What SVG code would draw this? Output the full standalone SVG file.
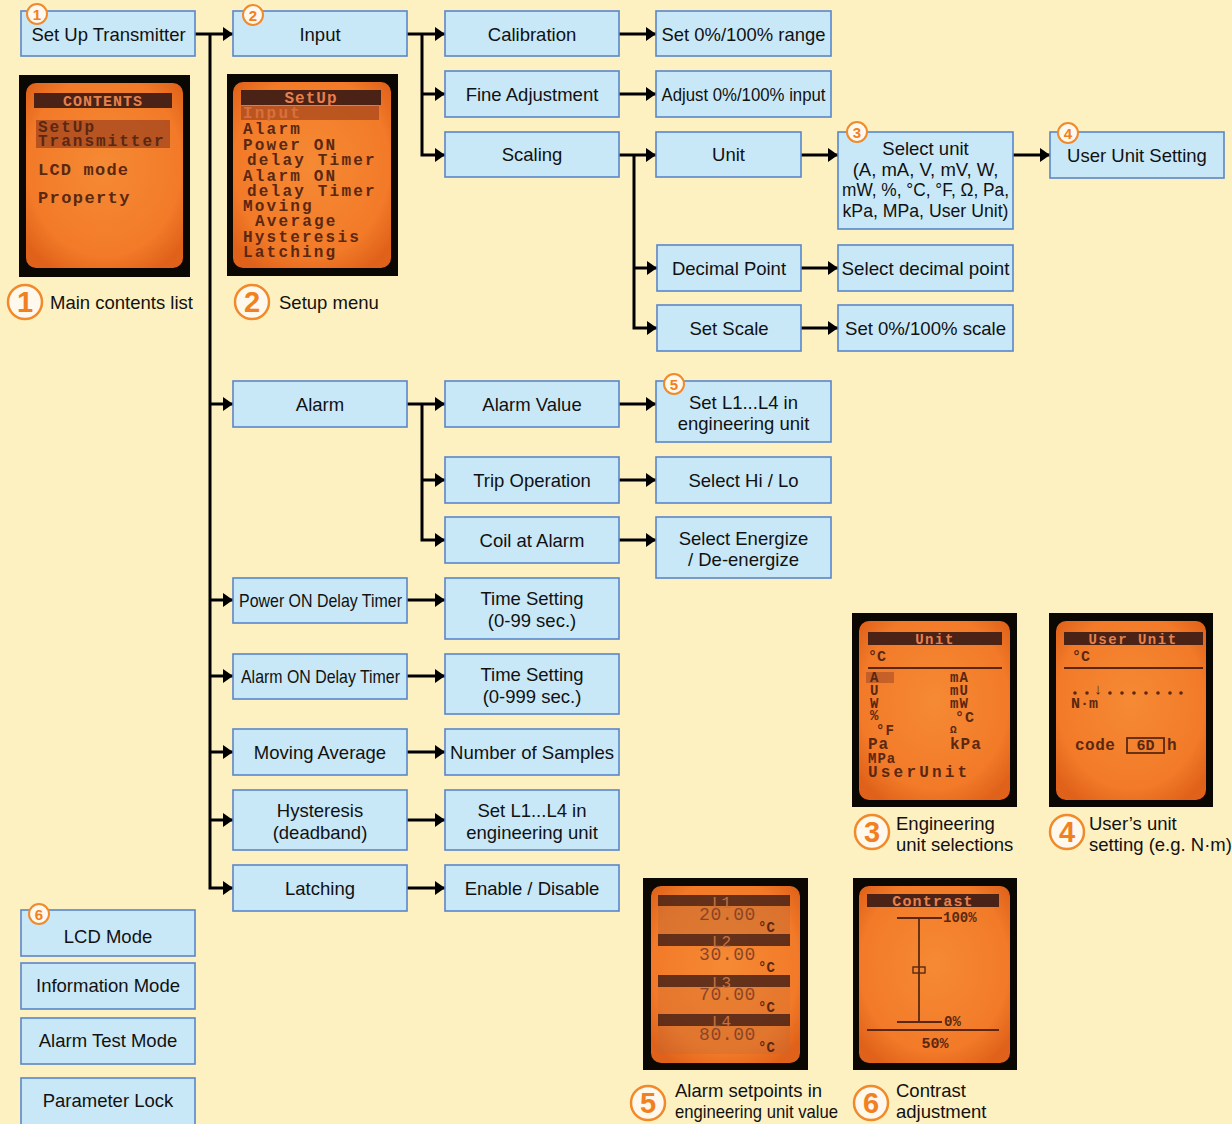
<svg xmlns="http://www.w3.org/2000/svg" width="1232" height="1124" viewBox="0 0 1232 1124">
<defs>
<style>
.box{fill:#C8E8F8;stroke:#5B86C9;stroke-width:1.6}
.t{font-family:"Liberation Sans",Arial,sans-serif;font-size:18.5px;fill:#111;text-anchor:middle}
.cap{font-family:"Liberation Sans",Arial,sans-serif;font-size:18.5px;fill:#111}
.c{stroke:#000;stroke-width:3;fill:none}
.sb{fill:#FFF8EC;stroke:#F08A2A;stroke-width:2}
.sn{font-family:"Liberation Sans",Arial,sans-serif;font-size:15px;font-weight:bold;fill:#F08020;text-anchor:middle}
.bb{fill:#FFF8EC;stroke:#F08A2A;stroke-width:2.5}
.bn{font-family:"Liberation Sans",Arial,sans-serif;font-size:29px;font-weight:bold;fill:#F08020;text-anchor:middle}
.bez{fill:#0b0703}
.scr{fill:url(#lcd)}
.hdr{fill:#4A2216}
.ht{font-family:"Liberation Mono","DejaVu Sans Mono",monospace;font-weight:bold;fill:#E8804C;text-anchor:middle}
.lt{font-family:"Liberation Mono","DejaVu Sans Mono",monospace;font-weight:bold;fill:#5A2812}
.ln{stroke:#5A2812;stroke-width:1.8;fill:none}
</style>
<radialGradient id="lcd" cx="50%" cy="45%" r="65%">
<stop offset="0" stop-color="#F68A34"/>
<stop offset="0.75" stop-color="#F27A28"/>
<stop offset="1" stop-color="#E0621A"/>
</radialGradient>
<marker id="ah" viewBox="0 0 10 14" refX="10" refY="7" markerWidth="10" markerHeight="14" markerUnits="userSpaceOnUse" orient="auto">
<path d="M0,0 L10,7 L0,14 z" fill="#000"/>
</marker>
</defs>
<rect x="0" y="0" width="1232" height="1124" fill="#FDF0C1"/>

<g id="connectors">
<path class="c" d="M195,34 H233" marker-end="url(#ah)"/>
<path class="c" d="M210,34 V888 H233" marker-end="url(#ah)"/>
<path class="c" d="M210,404 H233" marker-end="url(#ah)"/>
<path class="c" d="M210,600 H233" marker-end="url(#ah)"/>
<path class="c" d="M210,676 H233" marker-end="url(#ah)"/>
<path class="c" d="M210,752 H233" marker-end="url(#ah)"/>
<path class="c" d="M210,820 H233" marker-end="url(#ah)"/>
<path class="c" d="M407,34 H445" marker-end="url(#ah)"/>
<path class="c" d="M422,34 V155 H445" marker-end="url(#ah)"/>
<path class="c" d="M422,94 H445" marker-end="url(#ah)"/>
<path class="c" d="M619,34 H656" marker-end="url(#ah)"/>
<path class="c" d="M619,94 H656" marker-end="url(#ah)"/>
<path class="c" d="M619,155 H656" marker-end="url(#ah)"/>
<path class="c" d="M634,155 V328 H657" marker-end="url(#ah)"/>
<path class="c" d="M634,268 H657" marker-end="url(#ah)"/>
<path class="c" d="M801,155 H838" marker-end="url(#ah)"/>
<path class="c" d="M1013,155 H1050" marker-end="url(#ah)"/>
<path class="c" d="M801,268 H838" marker-end="url(#ah)"/>
<path class="c" d="M801,328 H838" marker-end="url(#ah)"/>
<path class="c" d="M407,404 H445" marker-end="url(#ah)"/>
<path class="c" d="M422,404 V540 H445" marker-end="url(#ah)"/>
<path class="c" d="M422,480 H445" marker-end="url(#ah)"/>
<path class="c" d="M619,404 H656" marker-end="url(#ah)"/>
<path class="c" d="M619,480 H656" marker-end="url(#ah)"/>
<path class="c" d="M619,540 H656" marker-end="url(#ah)"/>
<path class="c" d="M407,600 H445" marker-end="url(#ah)"/>
<path class="c" d="M407,676 H445" marker-end="url(#ah)"/>
<path class="c" d="M407,752 H445" marker-end="url(#ah)"/>
<path class="c" d="M407,820 H445" marker-end="url(#ah)"/>
<path class="c" d="M407,888 H445" marker-end="url(#ah)"/>
</g>

<g id="n-setup"><rect class="box" x="21" y="11" width="174" height="45"/><text class="t" x="108.5" y="40.5">Set Up Transmitter</text><circle class="sb" cx="37" cy="14" r="10"/><text class="sn" x="37" y="19.5">1</text></g>
<g id="n-input"><rect class="box" x="233" y="11" width="174" height="45"/><text class="t" x="320" y="40.5">Input</text><circle class="sb" cx="253" cy="15" r="10"/><text class="sn" x="253" y="20.5">2</text></g>
<g id="n-calibration"><rect class="box" x="445" y="11" width="174" height="45"/><text class="t" x="532" y="40.5">Calibration</text></g>
<g id="n-range"><rect class="box" x="656" y="11" width="175" height="45"/><text class="t" x="743.5" y="40.5" textLength="164" lengthAdjust="spacingAndGlyphs">Set 0%/100% range</text></g>
<g id="n-fine"><rect class="box" x="445" y="71" width="174" height="46"/><text class="t" x="532" y="100.5">Fine Adjustment</text></g>
<g id="n-adjust"><rect class="box" x="656" y="71" width="175" height="46"/><text class="t" x="743.5" y="100.5" textLength="164" lengthAdjust="spacingAndGlyphs">Adjust 0%/100% input</text></g>
<g id="n-scaling"><rect class="box" x="445" y="132" width="174" height="45"/><text class="t" x="532" y="161">Scaling</text></g>
<g id="n-unit"><rect class="box" x="656" y="132" width="145" height="45"/><text class="t" x="728.5" y="161">Unit</text></g>
<g id="n-selectunit"><rect class="box" x="838" y="132" width="175" height="97"/>
<text class="t" x="925.5" y="155">Select unit</text>
<text class="t" x="925.5" y="175.5">(A, mA, V, mV, W,</text>
<text class="t" x="925.5" y="196" textLength="167" lengthAdjust="spacingAndGlyphs">mW, %, °C, °F, Ω, Pa,</text>
<text class="t" x="925.5" y="216.5" textLength="166" lengthAdjust="spacingAndGlyphs">kPa, MPa, User Unit)</text>
<circle class="sb" cx="857" cy="132" r="10"/><text class="sn" x="857" y="137.5">3</text></g>
<g id="n-userunit"><rect class="box" x="1050" y="132" width="174" height="46"/><text class="t" x="1137" y="161.5">User Unit Setting</text><circle class="sb" cx="1068" cy="133" r="10"/><text class="sn" x="1068" y="138.5">4</text></g>
<g id="n-decimal"><rect class="box" x="657" y="245" width="144" height="46"/><text class="t" x="729" y="274.5">Decimal Point</text></g>
<g id="n-selectdecimal"><rect class="box" x="838" y="245" width="175" height="46"/><text class="t" x="925.5" y="274.5" textLength="168" lengthAdjust="spacingAndGlyphs">Select decimal point</text></g>
<g id="n-setscale"><rect class="box" x="657" y="305" width="144" height="46"/><text class="t" x="729" y="334.5">Set Scale</text></g>
<g id="n-scale100"><rect class="box" x="838" y="305" width="175" height="46"/><text class="t" x="925.5" y="334.5" textLength="161" lengthAdjust="spacingAndGlyphs">Set 0%/100% scale</text></g>
<g id="n-alarm"><rect class="box" x="233" y="381" width="174" height="46"/><text class="t" x="320" y="410.5">Alarm</text></g>
<g id="n-alarmvalue"><rect class="box" x="445" y="381" width="174" height="46"/><text class="t" x="532" y="410.5">Alarm Value</text></g>
<g id="n-setl1"><rect class="box" x="656" y="381" width="175" height="61"/><text class="t" x="743.5" y="408.5">Set L1...L4 in</text><text class="t" x="743.5" y="430">engineering unit</text><circle class="sb" cx="674" cy="384" r="10"/><text class="sn" x="674" y="389.5">5</text></g>
<g id="n-trip"><rect class="box" x="445" y="457" width="174" height="46"/><text class="t" x="532" y="486.5">Trip Operation</text></g>
<g id="n-hilo"><rect class="box" x="656" y="457" width="175" height="46"/><text class="t" x="743.5" y="486.5">Select Hi / Lo</text></g>
<g id="n-coil"><rect class="box" x="445" y="517" width="174" height="46"/><text class="t" x="532" y="546.5">Coil at Alarm</text></g>
<g id="n-energize"><rect class="box" x="656" y="517" width="175" height="61"/><text class="t" x="743.5" y="544.5">Select Energize</text><text class="t" x="743.5" y="566">/ De-energize</text></g>
<g id="n-poweron"><rect class="box" x="233" y="578" width="174" height="45"/><text class="t" x="320.5" y="607" textLength="163" lengthAdjust="spacingAndGlyphs">Power ON Delay Timer</text></g>
<g id="n-time1"><rect class="box" x="445" y="578" width="174" height="61"/><text class="t" x="532" y="605">Time Setting</text><text class="t" x="532" y="626.5">(0-99 sec.)</text></g>
<g id="n-alarmon"><rect class="box" x="233" y="654" width="174" height="45"/><text class="t" x="320.5" y="683" textLength="159" lengthAdjust="spacingAndGlyphs">Alarm ON Delay Timer</text></g>
<g id="n-time2"><rect class="box" x="445" y="654" width="174" height="60"/><text class="t" x="532" y="681">Time Setting</text><text class="t" x="532" y="702.5">(0-999 sec.)</text></g>
<g id="n-moving"><rect class="box" x="233" y="729" width="174" height="46"/><text class="t" x="320" y="758.5">Moving Average</text></g>
<g id="n-samples"><rect class="box" x="445" y="729" width="174" height="46"/><text class="t" x="532" y="758.5" textLength="164" lengthAdjust="spacingAndGlyphs">Number of Samples</text></g>
<g id="n-hysteresis"><rect class="box" x="233" y="790" width="174" height="60"/><text class="t" x="320" y="817">Hysteresis</text><text class="t" x="320" y="838.5">(deadband)</text></g>
<g id="n-setl1b"><rect class="box" x="445" y="790" width="174" height="60"/><text class="t" x="532" y="817">Set L1...L4 in</text><text class="t" x="532" y="838.5">engineering unit</text></g>
<g id="n-latching"><rect class="box" x="233" y="865" width="174" height="46"/><text class="t" x="320" y="894.5">Latching</text></g>
<g id="n-enable"><rect class="box" x="445" y="865" width="174" height="46"/><text class="t" x="532" y="894.5">Enable / Disable</text></g>
<g id="n-lcdmode"><rect class="box" x="21" y="910" width="174" height="46"/><text class="t" x="108" y="942.5">LCD Mode</text><circle class="sb" cx="39" cy="914" r="10"/><text class="sn" x="39" y="919.5">6</text></g>
<g id="n-infomode"><rect class="box" x="21" y="963" width="174" height="46"/><text class="t" x="108" y="991.5">Information Mode</text></g>
<g id="n-alarmtest"><rect class="box" x="21" y="1018" width="174" height="46"/><text class="t" x="108" y="1047">Alarm Test Mode</text></g>
<g id="n-paramlock"><rect class="box" x="21" y="1078" width="174" height="52"/><text class="t" x="108" y="1107">Parameter Lock</text></g>

<!-- LCD 1 -->
<g id="lcd1">
<rect class="bez" x="19" y="75" width="171" height="202"/>
<rect class="scr" x="26" y="83" width="157" height="185" rx="10"/>
<rect class="hdr" x="34" y="93" width="138" height="15"/>
<text class="ht" x="103" y="106" font-size="15" letter-spacing="1">CONTENTS</text>
<rect x="36" y="120" width="134" height="28" fill="#A8481E" opacity="0.8"/>
<text class="lt" x="38" y="132" font-size="16" letter-spacing="2" fill="#E07A44">SetUp</text>
<text class="lt" x="38" y="146" font-size="16" letter-spacing="2" fill="#E07A44">Transmitter</text>
<text class="lt" x="38" y="175" font-size="17" letter-spacing="1.2">LCD mode</text>
<text class="lt" x="38" y="203" font-size="17" letter-spacing="1.4">Property</text>
</g>
<g id="cap1"><circle class="bb" cx="25" cy="302" r="17"/><text class="bn" x="25" y="312">1</text><text class="cap" x="50" y="309">Main contents list</text></g>

<!-- LCD 2 -->
<g id="lcd2">
<rect class="bez" x="227" y="74" width="171" height="202"/>
<rect class="scr" x="233" y="82" width="158" height="186" rx="10"/>
<rect class="hdr" x="241" y="90" width="140" height="15"/>
<text class="ht" x="311" y="103" font-size="16" letter-spacing="1">SetUp</text>
<rect x="241" y="106" width="138" height="14" fill="#A8481E" opacity="0.75"/>
<g class="lt" font-size="16" letter-spacing="2.2">
<text x="243" y="118" fill="#D8703C">Input</text>
<text x="243" y="134">Alarm</text>
<text x="243" y="150">Power ON</text>
<text x="247" y="165">delay Timer</text>
<text x="243" y="181">Alarm ON</text>
<text x="247" y="196">delay Timer</text>
<text x="243" y="211">Moving</text>
<text x="255" y="226">Average</text>
<text x="243" y="242">Hysteresis</text>
<text x="243" y="257">Latching</text>
</g>
</g>
<g id="cap2"><circle class="bb" cx="252" cy="302" r="17"/><text class="bn" x="252" y="312">2</text><text class="cap" x="279" y="309">Setup menu</text></g>

<!-- LCD 3 -->
<g id="lcd3">
<rect class="bez" x="852" y="613" width="165" height="194"/>
<rect class="scr" x="859" y="621" width="151" height="179" rx="10"/>
<rect class="hdr" x="868" y="632" width="134" height="13"/>
<text class="ht" x="935" y="644" font-size="14" letter-spacing="1.5">Unit</text>
<text class="lt" x="868" y="661" font-size="15">°C</text>
<line class="ln" x1="868" y1="668" x2="1002" y2="668"/>
<rect x="866" y="672" width="28" height="11" fill="#B05428" opacity="0.7"/>
<g class="lt" font-size="14" letter-spacing="1">
<text x="870" y="682">A</text>
<text x="870" y="695">U</text>
<text x="870" y="708">W</text>
<text x="870" y="720">%</text>
<text x="876" y="735">°F</text>
<text x="868" y="749" font-size="16">Pa</text>
<text x="868" y="763">MPa</text>
<text x="868" y="777" font-size="16" letter-spacing="3.2">UserUnit</text>
<text x="950" y="682">mA</text>
<text x="950" y="695">mU</text>
<text x="950" y="708">mW</text>
<text x="955" y="722" font-size="15">°C</text>
<text x="950" y="733" font-size="11">Ω</text>
<text x="950" y="749" font-size="16">kPa</text>
</g>
</g>
<g id="cap3"><circle class="bb" cx="872" cy="832" r="17"/><text class="bn" x="872" y="842">3</text><text class="cap" x="896" y="830">Engineering</text><text class="cap" x="896" y="851">unit selections</text></g>

<!-- LCD 4 -->
<g id="lcd4">
<rect class="bez" x="1049" y="613" width="164" height="194"/>
<rect class="scr" x="1056" y="621" width="150" height="179" rx="10"/>
<rect class="hdr" x="1064" y="632" width="139" height="13"/>
<text class="ht" x="1133" y="644" font-size="14" letter-spacing="1.5">User Unit</text>
<text class="lt" x="1072" y="661" font-size="15">°C</text>
<line class="ln" x1="1064" y1="668" x2="1203" y2="668"/>
<g fill="#5A2812">
<circle cx="1075" cy="693" r="1.8"/><circle cx="1087" cy="693" r="1.8"/><circle cx="1110" cy="693" r="1.8"/><circle cx="1122" cy="693" r="1.8"/><circle cx="1134" cy="693" r="1.8"/><circle cx="1146" cy="693" r="1.8"/><circle cx="1158" cy="693" r="1.8"/><circle cx="1170" cy="693" r="1.8"/><circle cx="1181" cy="693" r="1.8"/>
</g>
<text class="lt" x="1098" y="694" font-size="15" text-anchor="middle">↓</text>
<text class="lt" x="1071" y="708" font-size="15">N·m</text>
<text class="lt" x="1075" y="750" font-size="16" letter-spacing="0.5">code</text>
<rect x="1127" y="738" width="37" height="15" fill="none" stroke="#5A2812" stroke-width="1.8"/>
<text class="lt" x="1145.5" y="750" font-size="15" text-anchor="middle">6D</text>
<text class="lt" x="1167" y="750" font-size="16">h</text>
</g>
<g id="cap4"><circle class="bb" cx="1067" cy="832" r="17"/><text class="bn" x="1067" y="842">4</text><text class="cap" x="1089" y="830">User’s unit</text><text class="cap" x="1089" y="851">setting (e.g. N·m)</text></g>

<!-- LCD 5 -->
<g id="lcd5">
<rect class="bez" x="643" y="878" width="165" height="192"/>
<rect class="scr" x="651" y="886" width="149" height="177" rx="10"/>
<rect x="658" y="906" width="132" height="28" fill="#B86A3A" opacity="0.4"/>
<rect x="658" y="987" width="132" height="28" fill="#B86A3A" opacity="0.2"/>
<rect x="658" y="1026" width="132" height="28" fill="#B86A3A" opacity="0.3"/>
<g>
<rect class="hdr" x="658" y="895" width="132" height="11" opacity="0.85"/>
<rect class="hdr" x="658" y="934" width="132" height="12" opacity="0.85"/>
<rect class="hdr" x="658" y="975" width="132" height="12" opacity="0.85"/>
<rect class="hdr" x="658" y="1014" width="132" height="12" opacity="0.85"/>
</g>
<g font-family="'Liberation Mono','DejaVu Sans Mono',monospace" font-size="16" fill="#C8703E">
<text x="712" y="908">L1</text><text x="712" y="947">L2</text><text x="712" y="988">L3</text><text x="712" y="1027">L4</text>
</g>
<g font-family="'Liberation Mono','DejaVu Sans Mono',monospace" font-size="18" letter-spacing="0.6" fill="#8A4528">
<text x="699" y="920">20.00</text><text x="699" y="960">30.00</text><text x="699" y="1000">70.00</text><text x="699" y="1040">80.00</text>
</g>
<g class="lt" font-size="14">
<text x="758" y="932">°C</text><text x="758" y="972">°C</text><text x="758" y="1012">°C</text><text x="758" y="1052">°C</text>
</g>
</g>
<g id="cap5"><circle class="bb" cx="648" cy="1103" r="17"/><text class="bn" x="648" y="1113">5</text><text class="cap" x="675" y="1097" font-size="17.5">Alarm setpoints in</text><text class="cap" x="675" y="1118" textLength="163" lengthAdjust="spacingAndGlyphs">engineering unit value</text></g>

<!-- LCD 6 -->
<g id="lcd6">
<rect class="bez" x="853" y="878" width="164" height="192"/>
<rect class="scr" x="859" y="886" width="151" height="177" rx="10"/>
<rect class="hdr" x="867" y="894" width="132" height="13"/>
<text class="ht" x="933" y="906" font-size="15" letter-spacing="1.2">Contrast</text>
<line class="ln" x1="897" y1="918" x2="942" y2="918"/>
<line class="ln" x1="919" y1="918" x2="919" y2="1022"/>
<line class="ln" x1="897" y1="1022" x2="942" y2="1022"/>
<rect x="913" y="967" width="12" height="6" fill="none" stroke="#5A2812" stroke-width="1.4"/>
<text class="lt" x="943" y="922" font-size="14">100%</text>
<text class="lt" x="944" y="1026" font-size="14">0%</text>
<line class="ln" x1="867" y1="1030" x2="999" y2="1030"/>
<text class="lt" x="935" y="1048" font-size="15" text-anchor="middle">50%</text>
</g>
<g id="cap6"><circle class="bb" cx="871" cy="1103" r="17"/><text class="bn" x="871" y="1113">6</text><text class="cap" x="896" y="1097">Contrast</text><text class="cap" x="896" y="1118">adjustment</text></g>
</svg>
